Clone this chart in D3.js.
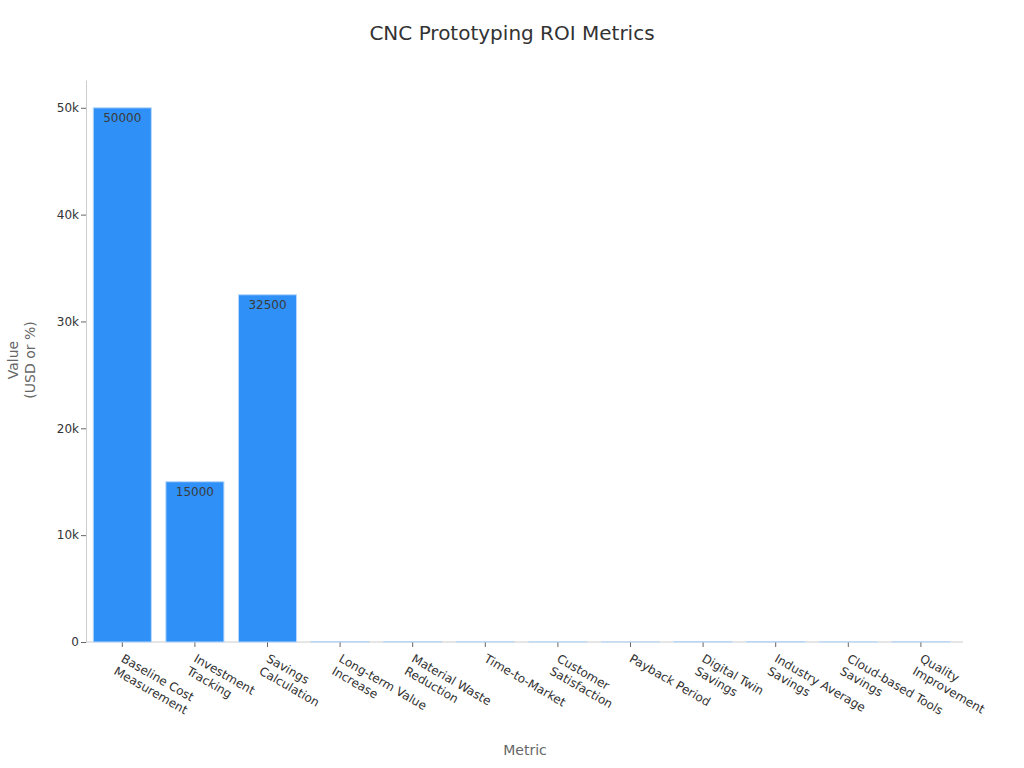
<!DOCTYPE html>
<meta charset="utf-8">
<script src="https://d3js.org/d3.v7.min.js"></script>
<style>
  body { margin: 0; background: #fff; }
  svg text { font-family: "DejaVu Sans", sans-serif; }
</style>
<div id="chart"></div>
<script>

// data
var categories = [
  ["Baseline Cost", "Measurement"],
  ["Investment", "Tracking"],
  ["Savings", "Calculation"],
  ["Long-term Value", "Increase"],
  ["Material Waste", "Reduction"],
  ["Time-to-Market"],
  ["Customer", "Satisfaction"],
  ["Payback Period"],
  ["Digital Twin", "Savings"],
  ["Industry Average", "Savings"],
  ["Cloud-based Tools", "Savings"],
  ["Quality", "Improvement"]
];
var values = [50000, 15000, 32500, 30, 20, 15, 10, 6, 25, 25, 10, 15];
var labelled = [true, true, true, false, false, false, false, false, false, false, false, false];
var yTicks = [0, 10000, 20000, 30000, 40000, 50000];
var yTickLabels = ["0", "10k", "20k", "30k", "40k", "50k"];

var width = 1024, height = 768;
var mLeft = 86, mRight = 963, mTop = 80, mBottom = 642;

var svg = d3.select("#chart").append("svg")
    .attr("width", width)
    .attr("height", height);

var keys = categories.map(function(c) { return c.join(" "); });

var x = d3.scaleBand()
    .domain(keys)
    .range([mLeft, mLeft + 12 * 72.6])
    .paddingInner(0.2)
    .paddingOuter(0.1);

var y = d3.scaleLinear()
    .domain([0, 52600])
    .range([mBottom, mTop]);

// title
svg.append("text")
    .attr("x", 512)
    .attr("y", 40)
    .attr("text-anchor", "middle")
    .style("font-size", "20px")
    .style("fill", "#333")
    .text("CNC Prototyping ROI Metrics");

// y axis
var yAxis = svg.append("g")
    .attr("transform", "translate(" + mLeft + ",0)")
    .call(d3.axisLeft(y).tickValues(yTicks).tickFormat(function(d, i) { return yTickLabels[i]; }).tickSize(5).tickSizeOuter(0));
yAxis.select(".domain").attr("stroke", "#ccc");
yAxis.selectAll(".tick line").attr("stroke", "#666");
yAxis.selectAll(".tick text").style("font-size", "12px").style("fill", "#333").attr("x", -7);

// x axis
var xAxis = svg.append("g")
    .attr("transform", "translate(0," + mBottom + ")")
    .call(d3.axisBottom(x).tickSize(5).tickSizeOuter(0).tickFormat(""));
xAxis.select(".domain").attr("d", "M" + mLeft + ",0H" + mRight).attr("stroke", "#ccc");
xAxis.selectAll(".tick line").attr("stroke", "#666");

// bars
svg.append("g")
  .selectAll("rect")
  .data(values)
  .enter()
  .append("rect")
    .attr("x", function(d, i) { return x(keys[i]); })
    .attr("y", function(d) { return y(d); })
    .attr("width", x.bandwidth())
    .attr("height", function(d) { return mBottom - y(d); })
    .attr("fill", "#2f91f7")
    .attr("stroke", "#b9d9fb")
    .attr("stroke-width", 1);

// value labels inside the big bars
svg.append("g")
  .selectAll("text")
  .data(values.map(function(v, i) { return {v: v, i: i}; }).filter(function(d) { return labelled[d.i]; }))
  .enter()
  .append("text")
    .attr("x", function(d) { return x(keys[d.i]) + x.bandwidth() / 2; })
    .attr("y", function(d) { return y(d.v) + 14; })
    .attr("text-anchor", "middle")
    .style("font-size", "12px")
    .style("fill", "#3a3a3a")
    .text(function(d) { return d.v; });

// rotated category labels
var lab = svg.append("g")
  .selectAll("g")
  .data(categories)
  .enter()
  .append("g")
    .attr("transform", function(d, i) {
      return "translate(" + (x(keys[i]) + x.bandwidth() / 2 - 2) + "," + (mBottom + 19) + ") rotate(30)";
    })
  .append("text")
    .style("font-size", "12px")
    .style("fill", "#333");
lab.selectAll("tspan")
  .data(function(d) { return d; })
  .enter()
  .append("tspan")
    .attr("x", 0)
    .attr("dy", function(d, j) { return j === 0 ? 0 : "1.2em"; })
    .text(function(d) { return d; });

// axis titles
svg.append("text")
    .attr("x", 525)
    .attr("y", 755)
    .attr("text-anchor", "middle")
    .style("font-size", "14px")
    .style("fill", "#666")
    .text("Metric");

var yt = svg.append("text")
    .attr("transform", "translate(18,360) rotate(-90)")
    .attr("text-anchor", "middle")
    .style("font-size", "14px")
    .style("fill", "#666");
yt.append("tspan").attr("x", 0).attr("dy", 0).text("Value");
yt.append("tspan").attr("x", 0).attr("dy", "1.2em").text("(USD or %)");

</script>
